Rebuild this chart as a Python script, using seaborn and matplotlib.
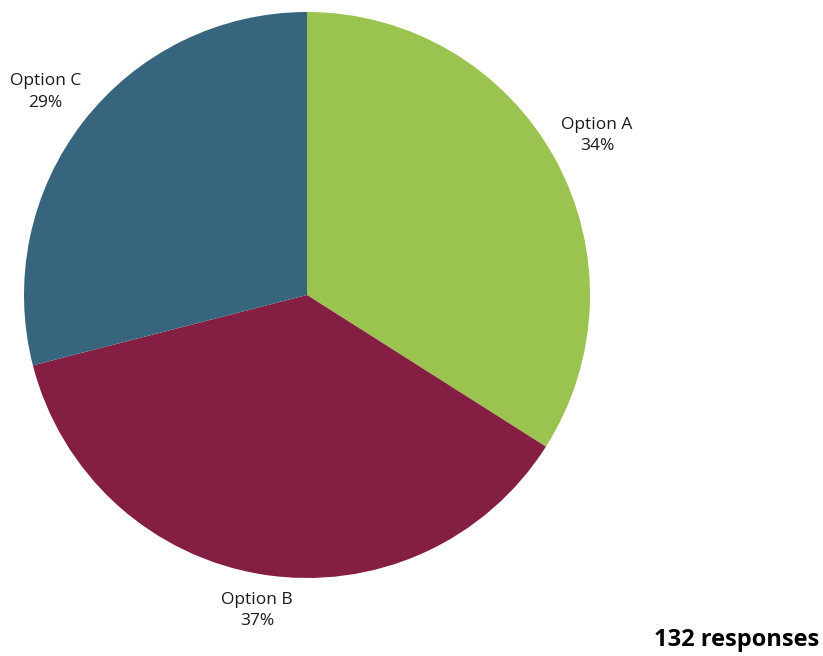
import matplotlib
matplotlib.use("Agg")
import matplotlib.pyplot as plt
import seaborn as sns

categories = ["Option A", "Option B", "Option C"]
shares = [34, 37, 29]
colors = ["#9BC350", "#841F43", "#37657D"]
total_responses = 132

sns.set_theme(style="white")
plt.rcParams['font.family'] = ['Open Sans', 'DejaVu Sans']
palette = sns.color_palette(colors)

fig = plt.figure(figsize=(8.23, 6.56), dpi=100)
ax = fig.add_axes([0, 0, 1, 1])

cx, cy, r = 307, 361, 283
labels = [f"{c}\n{s}%" for c, s in zip(categories, shares)]
wedges, texts = ax.pie(
    shares,
    labels=labels,
    colors=palette,
    startangle=90,
    counterclock=False,
    center=(cx, cy),
    radius=r,
    labeldistance=1.17,
    frame=True,
    wedgeprops={'linewidth': 0},
    textprops={'fontsize': 12.5, 'color': '#1a1a1a'},
)
# label distances vary a little in the original
label_scale = [1.0, 0.965, 1.0]
for t, k in zip(texts, label_scale):
    x, y = t.get_position()
    t.set_position((cx + (x - cx) * k, cy + (y - cy) * k))
    t.set_ha('center')
    t.set_va('center')
    t.set_linespacing(1.45)

ax.set_xlim(0, 823)
ax.set_ylim(0, 656)
ax.set_aspect('equal')
ax.axis('off')

ax.text(819, 16, f"{total_responses} responses", ha='right', va='center',
        fontsize=17, fontweight='bold', color='black')

plt.savefig("out.png", dpi=100)
